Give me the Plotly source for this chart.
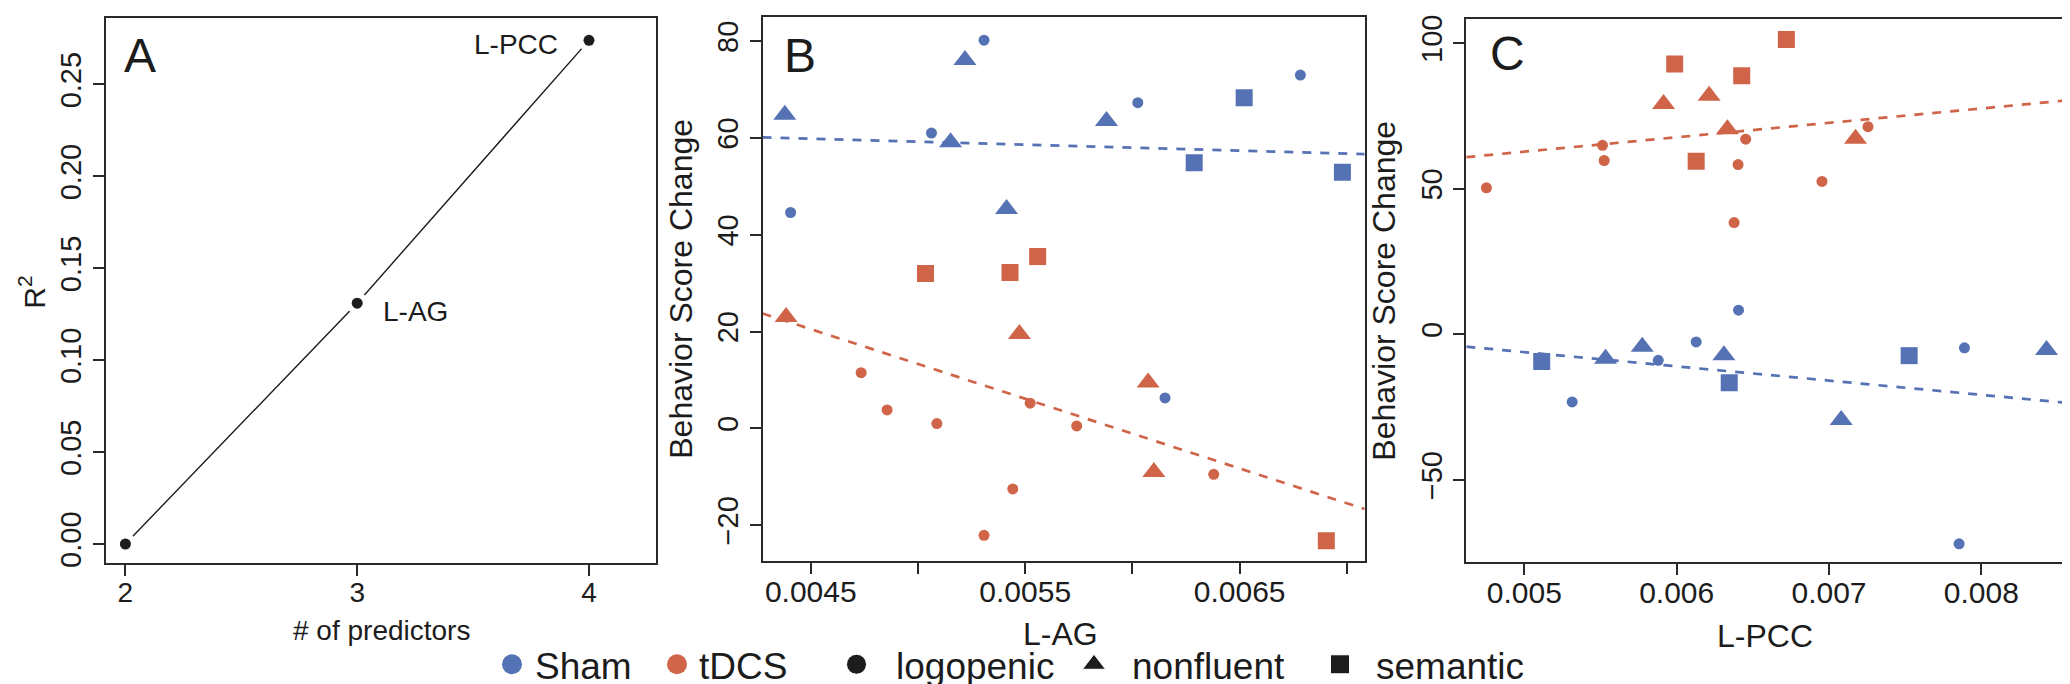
import numpy as np
import plotly.graph_objects as go

W, H = 2070, 684
FONT = "Liberation Sans, Arial, Helvetica, sans-serif"
BLUE = "#5572B4"
RED = "#CF6449"
INK = "#1c1c1c"

# ---------------- data ----------------
# Panel A
n_predictors = [2, 3, 4]
r_squared = [0.0, 0.131, 0.274]
model_labels = ["", "L-AG", "L-PCC"]

# Panel B : L-AG vs behaviour score change
b_sham_lag = [0.004379, 0.004406, 0.005308, 0.005219, 0.005063, 0.005152, 0.005413,
              0.005879, 0.006025, 0.006521, 0.006288, 0.006783, 0.006979, 0.006152]
b_sham_score = [64.8, 44.6, 80.2, 76.1, 61.0, 59.1, 45.3, 63.5, 67.3, 68.3, 54.9, 73.0, 52.9, 6.3]
b_sham_variant = ["nonfluent", "logopenic", "logopenic", "nonfluent", "logopenic", "nonfluent",
                  "nonfluent", "nonfluent", "logopenic", "semantic", "semantic", "logopenic",
                  "semantic", "logopenic"]

b_tdcs_lag = [0.005035, 0.005429, 0.005558, 0.004385, 0.005473, 0.006073, 0.006100, 0.004735,
              0.004856, 0.005088, 0.005523, 0.005740, 0.005442, 0.005308, 0.006379, 0.006904]
b_tdcs_score = [32.0, 32.2, 35.5, 23.0, 19.5, 9.5, -9.0, 11.5, 3.8, 1.0, 5.2, 0.5, -12.5, -22.1, -9.5, -23.2]
b_tdcs_variant = ["semantic", "semantic", "semantic", "nonfluent", "nonfluent", "nonfluent",
                  "nonfluent", "logopenic", "logopenic", "logopenic", "logopenic", "logopenic",
                  "logopenic", "logopenic", "logopenic", "semantic"]

# Panel C : L-PCC vs behaviour score change
c_sham_pcc = [0.006406, 0.005114, 0.005533, 0.005774, 0.005879, 0.006128, 0.006310,
              0.006345, 0.005314, 0.007080, 0.007526, 0.007889, 0.008428, 0.007854]
c_sham_score = [8.3, -9.3, -8.4, -4.2, -8.9, -2.6, -7.2, -16.6, -23.2, -29.4, -7.3, -4.6, -5.4, -71.9]
c_sham_variant = ["logopenic", "semantic", "nonfluent", "nonfluent", "logopenic", "logopenic",
                  "nonfluent", "semantic", "logopenic", "nonfluent", "semantic", "logopenic",
                  "nonfluent", "logopenic"]

c_tdcs_pcc = [0.005987, 0.006427, 0.006720, 0.006128, 0.005914, 0.006213, 0.006333, 0.007174,
              0.004751, 0.005513, 0.005524, 0.006403, 0.006453, 0.006377, 0.006954, 0.007256]
c_tdcs_score = [92.8, 88.8, 101.2, 59.4, 79.1, 81.9, 70.4, 67.2,
                50.3, 64.9, 59.7, 58.3, 67.0, 38.4, 52.5, 71.3]
c_tdcs_variant = ["semantic", "semantic", "semantic", "semantic", "nonfluent", "nonfluent",
                  "nonfluent", "nonfluent", "logopenic", "logopenic", "logopenic", "logopenic",
                  "logopenic", "logopenic", "logopenic", "logopenic"]

legend_groups = ["Sham", "tDCS"]
legend_variants = ["logopenic", "nonfluent", "semantic"]

# tick values
a_xticks = [2, 3, 4]
a_yticks = [0, 0.05, 0.10, 0.15, 0.20, 0.25]
b_xticks_major = [0.0045, 0.0055, 0.0065]
b_xticks_minor = [0.005, 0.006, 0.007]
b_yticks = [-20, 0, 20, 40, 60, 80]
c_xticks = [0.005, 0.006, 0.007, 0.008]
c_yticks = [-50, 0, 50, 100]

# ---------------- styles / layout ----------------
SYMBOL = {"logopenic": "circle", "nonfluent": "triangle-up", "semantic": "square"}
SIZE = {"logopenic": 11, "nonfluent": 20, "semantic": 17}

# plot boxes in pixels: (left, top, right, bottom)
BOX = {"A": (97.7, 6.0, 648.2, 558.0),
       "B": (754.5, 5.5, 1356.7, 555.0),
       "C": (1458.3, 7.3, 2061.7, 556.7)}
RANGE_X = {"A": [1.915, 4.29], "B": [0.004275, 0.007083], "C": [0.004619, 0.008580]}
RANGE_Y = {"A": [-0.0106, 0.2862], "B": [-27.3, 84.9], "C": [-78.2, 108.2]}


def px(x):
    return x / W


def py(y):
    return 1 - y / H


fig = go.Figure()

# ---- Panel A ----
fig.add_trace(go.Scatter(x=n_predictors, y=r_squared, mode="lines",
                         line=dict(color=INK, width=1.4), xaxis="x", yaxis="y",
                         showlegend=False, hoverinfo="skip"))
fig.add_trace(go.Scatter(x=n_predictors, y=r_squared, mode="markers",
                         marker=dict(color="white", size=22, opacity=1), xaxis="x", yaxis="y",
                         showlegend=False, hoverinfo="skip"))
fig.add_trace(go.Scatter(x=n_predictors, y=r_squared, mode="markers",
                         marker=dict(color=INK, size=11, opacity=1), xaxis="x", yaxis="y",
                         showlegend=False))

# ---- Panels B and C ----
panels = [
    ("B", "x2", "y2", [(b_sham_lag, b_sham_score, b_sham_variant, BLUE),
                       (b_tdcs_lag, b_tdcs_score, b_tdcs_variant, RED)]),
    ("C", "x3", "y3", [(c_sham_pcc, c_sham_score, c_sham_variant, BLUE),
                       (c_tdcs_pcc, c_tdcs_score, c_tdcs_variant, RED)]),
]
for key, xa, ya, groups in panels:
    for xs, ys, vs, col in groups:
        coef = np.polyfit(np.array(xs), np.array(ys), 1)
        lx = np.array(RANGE_X[key])
        fig.add_trace(go.Scatter(x=lx, y=np.polyval(coef, lx), mode="lines",
                                 line=dict(color=col, width=2.7, dash="9px,9px"),
                                 xaxis=xa, yaxis=ya, showlegend=False, hoverinfo="skip"))
    for xs, ys, vs, col in groups:
        fig.add_trace(go.Scatter(x=xs, y=ys, mode="markers",
                                 marker=dict(color=col, symbol=[SYMBOL[v] for v in vs],
                                             size=[SIZE[v] for v in vs], opacity=1,
                                             line=dict(width=0)),
                                 xaxis=xa, yaxis=ya, showlegend=False))

# ---- legend row (overlay axis in pixel units) ----
LEG_Y = 660
LEG_DOT_X = [504, 669]
LEG_TXT_X = [525, 689]
LEG_SYM_X = [848.5, 1086, 1332]
LEG_SYM_TXT_X = [886, 1122, 1366]
fig.add_trace(go.Scatter(x=LEG_DOT_X, y=[LEG_Y] * 2, mode="markers",
                         marker=dict(color=[BLUE, RED], size=20, opacity=1),
                         xaxis="x4", yaxis="y4", showlegend=False, hoverinfo="skip"))
fig.add_trace(go.Scatter(x=LEG_SYM_X, y=[LEG_Y] * 3, mode="markers",
                         marker=dict(color=INK, symbol=[SYMBOL[v] for v in legend_variants],
                                     size=[20, 20, 19], opacity=1),
                         xaxis="x4", yaxis="y4", showlegend=False, hoverinfo="skip"))

annotations = []
for name, xpos in zip(legend_groups + legend_variants, LEG_TXT_X + LEG_SYM_TXT_X):
    annotations.append(dict(text=name, x=px(xpos), y=py(LEG_Y + 2), xref="paper", yref="paper",
                            xanchor="left", yanchor="middle", showarrow=False,
                            font=dict(family=FONT, size=37, color=INK)))

# panel letters
for letter, (cx, cy) in {"A": (132, 44), "B": (792, 44), "C": (1499, 42)}.items():
    annotations.append(dict(text=letter, x=px(cx), y=py(cy), xref="paper", yref="paper",
                            xanchor="center", yanchor="middle", showarrow=False,
                            font=dict(family=FONT, size=48, color=INK)))

# point labels in panel A
for lab, xv, yv, dx, dy in [(model_labels[1], n_predictors[1], r_squared[1], 58, -8),
                             (model_labels[2], n_predictors[2], r_squared[2], -73, -4)]:
    annotations.append(dict(text=lab, x=xv, y=yv, xref="x", yref="y", xshift=dx, yshift=dy,
                            xanchor="center", yanchor="middle", showarrow=False,
                            font=dict(family=FONT, size=28, color=INK)))

# axis titles
titles = [("# of predictors", 373, 626, 0, 28),
          ("L-AG", 1052, 629, 0, 32),
          ("L-PCC", 1757, 631, 0, 32),
          ("R<sup>2</sup>", 24, 284, -90, 30),
          ("Behavior Score Change", 673, 280, -90, 32),
          ("Behavior Score Change", 1376, 282, -90, 32)]
for t, xx, yy, ang, fs in titles:
    annotations.append(dict(text=t, x=px(xx), y=py(yy), xref="paper", yref="paper",
                            xanchor="center", yanchor="middle", showarrow=False, textangle=ang,
                            font=dict(family=FONT, size=fs, color=INK)))

AXC = "#2a2a2a"
axis_common = dict(showline=True, linecolor=AXC, linewidth=2, mirror=True,
                   ticks="outside", ticklen=11, tickwidth=1.8, tickcolor=AXC,
                   showgrid=False, zeroline=False, autorange=False,
                   tickfont=dict(family=FONT, size=30, color=INK))
ytick_font = dict(family=FONT, size=29, color=INK)
XSTAND = -8


def xdom(k):
    l, t, r, b = BOX[k]
    return [px(l), px(r)]


def ydom(k):
    l, t, r, b = BOX[k]
    return [py(b), py(t)]


fig.update_layout(
    width=W, height=H, margin=dict(l=0, r=0, t=0, b=0),
    paper_bgcolor="white", plot_bgcolor="rgba(0,0,0,0)", showlegend=False,
    annotations=annotations,
    xaxis=dict(axis_common, domain=xdom("A"), range=RANGE_X["A"], anchor="y",
               tickvals=a_xticks, ticklabelstandoff=XSTAND,
               tickfont=dict(family=FONT, size=28, color=INK)),
    yaxis=dict(axis_common, domain=ydom("A"), range=RANGE_Y["A"], anchor="x",
               tickvals=a_yticks, tickformat=".2f", tickangle=-90, tickfont=ytick_font),
    xaxis2=dict(axis_common, domain=xdom("B"), range=RANGE_X["B"], anchor="y2",
                tickvals=b_xticks_major, tickformat=".4f", ticklabelstandoff=XSTAND,
                minor=dict(tickvals=b_xticks_minor, ticks="outside", ticklen=11,
                           tickwidth=1.8, tickcolor=AXC, showgrid=False)),
    yaxis2=dict(axis_common, domain=ydom("B"), range=RANGE_Y["B"], anchor="x2",
                tickvals=b_yticks, tickangle=-90, tickfont=ytick_font),
    xaxis3=dict(axis_common, domain=xdom("C"), range=RANGE_X["C"], anchor="y3",
                tickvals=c_xticks, tickformat=".3f", ticklabelstandoff=XSTAND),
    yaxis3=dict(axis_common, domain=ydom("C"), range=RANGE_Y["C"], anchor="x3",
                tickvals=c_yticks, tickangle=-90, tickfont=ytick_font),
    xaxis4=dict(domain=[0, 1], range=[0, W], visible=False, anchor="y4", fixedrange=True),
    yaxis4=dict(domain=[0, 1], range=[H, 0], visible=False, anchor="x4", fixedrange=True),
)

fig.write_html("out.html")
